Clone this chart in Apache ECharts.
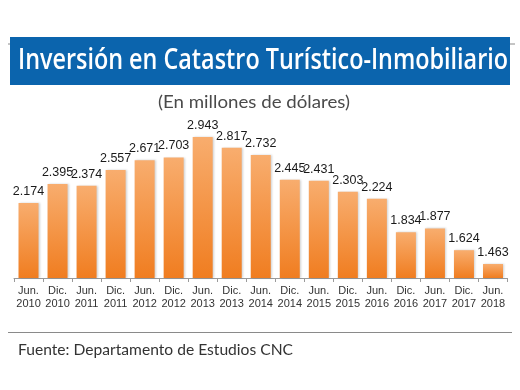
<!DOCTYPE html>
<html>
<head>
<meta charset="utf-8">
<script src="https://cdn.jsdelivr.net/npm/echarts@6/dist/echarts.min.js"></script>
<style>
html,body{margin:0;padding:0;background:#fff;}
#c{width:520px;height:390px;}
</style>
</head>
<body>
<div id="c"></div>
<script>
const categories = ["Jun.\n2010","Dic.\n2010","Jun.\n2011","Dic.\n2011","Jun.\n2012","Dic.\n2012","Jun.\n2013","Dic.\n2013","Jun.\n2014","Dic.\n2014","Jun.\n2015","Dic.\n2015","Jun.\n2016","Dic.\n2016","Jun.\n2017","Dic.\n2017","Jun.\n2018"];
const values = [2.174,2.395,2.374,2.557,2.671,2.703,2.943,2.817,2.732,2.445,2.431,2.303,2.224,1.834,1.877,1.624,1.463];
const titleText = "Inversión en Catastro Turístico-Inmobiliario";
const subtitleText = "(En millones de dólares)";
const sourceText = "Fuente: Departamento de Estudios CNC";

function measure(text, font){
  const cv = document.createElement('canvas').getContext('2d');
  cv.font = font;
  return cv.measureText(text).width;
}
const titleFont = "600 28px 'Open Sans'";
const titleScale = 490 / measure(titleText, titleFont);
const subFont = "18px 'Lato'";
const subScale = 192 / measure(subtitleText, subFont);
const srcFont = "15px 'Lato'";
const srcScale = 275 / measure(sourceText, srcFont);

const chart = echarts.init(document.getElementById('c'), null, {renderer:'canvas'});
chart.setOption({
  backgroundColor:'#fff',
  animation:false,
  grid:{left:14, right:12.5, top:132, bottom:112, containLabel:false},
  xAxis:{
    type:'category',
    data:categories,
    axisLine:{lineStyle:{color:'#9a9a9a', width:1}},
    axisTick:{show:true, length:4, lineStyle:{color:'#9a9a9a'}},
    axisLabel:{color:'#333', fontSize:11, lineHeight:12.5, margin:7, fontFamily:'Liberation Sans', interval:0}
  },
  yAxis:{type:'value', min:1.3, max:3.0, show:false, splitLine:{show:false}},
  series:[{
    type:'bar',
    data:values,
    barWidth:20,
    itemStyle:{
      color:new echarts.graphic.LinearGradient(0,0,0,1,[{offset:0,color:'#f8ad6e'},{offset:1,color:'#f07d20'}]),
      shadowColor:'rgba(0,0,0,0.18)', shadowBlur:2, shadowOffsetX:1.5, shadowOffsetY:0
    },
    label:{
      show:true, position:'top', distance:5, color:'#1a1a1a', fontSize:12.5,
      fontFamily:'Liberation Sans',
      formatter:p=>p.value.toFixed(3)
    }
  }],
  graphic:[
    {type:'line', shape:{x1:8,y1:44,x2:515,y2:44}, style:{stroke:'#8a8a8a', lineWidth:1}, z:1},
    {type:'rect', shape:{x:10,y:37,width:500,height:48}, style:{fill:'#0b64ad'}, z:2},
    {type:'text', x:18, y:61, scaleX:titleScale, style:{text:titleText, fill:'#fff', font:titleFont, textVerticalAlign:'middle', textBaseline:'middle'}, z:3},
    {type:'text', x:158, y:102, scaleX:subScale, style:{text:subtitleText, fill:'#4a4a4a', font:subFont, textVerticalAlign:'middle', textBaseline:'middle'}, z:3},
    {type:'line', shape:{x1:8,y1:332.5,x2:512,y2:332.5}, style:{stroke:'#8a8a8a', lineWidth:1.2}, z:1},
    {type:'text', x:18, y:350, scaleX:srcScale, style:{text:sourceText, fill:'#333', font:srcFont, textVerticalAlign:'middle', textBaseline:'middle'}, z:3}
  ]
});
</script>
</body>
</html>
